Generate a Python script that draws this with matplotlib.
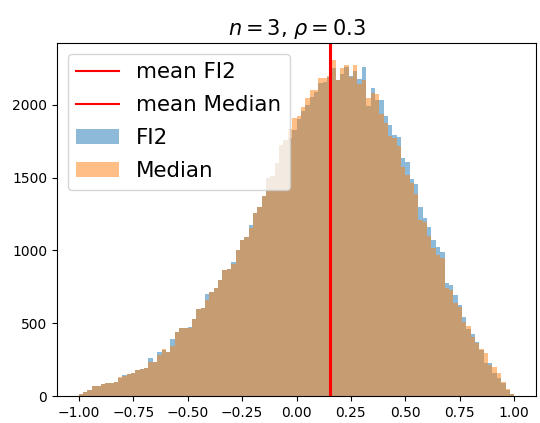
import numpy as np
import matplotlib
matplotlib.use("Agg")
import matplotlib.pyplot as plt

# histogram setup (100 bins over [-1, 1])
bin_lo, bin_hi, n_bins = -1.0, 1.0, 100

fi2_counts = [
    12, 25, 44, 66, 66, 80, 87, 88, 96, 125,
    144, 151, 156, 179, 185, 192, 259, 236, 304, 316,
    304, 390, 442, 470, 466, 472, 529, 598, 603, 701,
    712, 740, 797, 866, 869, 923, 1003, 1072, 1095, 1175,
    1255, 1300, 1377, 1496, 1510, 1599, 1725, 1760, 1770, 1828,
    1900, 1960, 2000, 2057, 2090, 2148, 2160, 2190, 2250, 2172,
    2210, 2260, 2200, 2230, 2180, 2263, 1993, 2115, 2030, 2030,
    1924, 1862, 1794, 1782, 1633, 1606, 1489, 1455, 1297, 1221,
    1164, 1072, 1026, 988, 774, 763, 694, 625, 545, 461,
    426, 373, 316, 229, 225, 160, 122, 87, 41, 14,
]

median_counts = [
    12, 25, 44, 70, 70, 80, 87, 92, 96, 133,
    140, 148, 156, 179, 185, 192, 236, 236, 280, 320,
    300, 344, 440, 465, 466, 470, 529, 596, 603, 660,
    717, 740, 797, 866, 869, 905, 1003, 1072, 1095, 1155,
    1255, 1300, 1377, 1496, 1510, 1599, 1725, 1760, 1833, 1908,
    1920, 1984, 2046, 2103, 2103, 2183, 2183, 2200, 2309, 2172,
    2256, 2275, 2188, 2275, 2144, 2172, 2046, 2080, 2075, 1940,
    1878, 1787, 1771, 1714, 1576, 1520, 1466, 1390, 1210, 1198,
    1100, 1017, 970, 947, 740, 728, 641, 609, 510, 483,
    408, 362, 321, 298, 213, 202, 156, 98, 48, 14,
]

mean_fi2 = 0.152
mean_median = 0.157

series_labels = ["FI2", "Median"]
title_text = r"$n=3$, $\rho=0.3$"

edges = np.linspace(bin_lo, bin_hi, n_bins + 1)
centers = 0.5 * (edges[:-1] + edges[1:])

fig = plt.figure(figsize=(5.4, 4.23), dpi=100)
ax = fig.add_axes([57 / 540, 27 / 423, 479 / 540, 353 / 423])

_, _, p1 = ax.hist(centers, bins=edges, weights=fi2_counts, alpha=0.5,
                   color="C0", label=series_labels[0])
_, _, p2 = ax.hist(centers, bins=edges, weights=median_counts, alpha=0.5,
                   color="C1", label=series_labels[1])
l1 = ax.axvline(mean_fi2, color="red", label="mean FI2")
l2 = ax.axvline(mean_median, color="red", label="mean Median")

ax.set_title(title_text, fontsize=15)
ax.legend(handles=[l1, l2, p1[0], p2[0]],
          labels=["mean FI2", "mean Median", "FI2", "Median"],
          loc="upper left", fontsize=15.4, labelspacing=0.61)

fig.savefig("out.png", dpi=100)
